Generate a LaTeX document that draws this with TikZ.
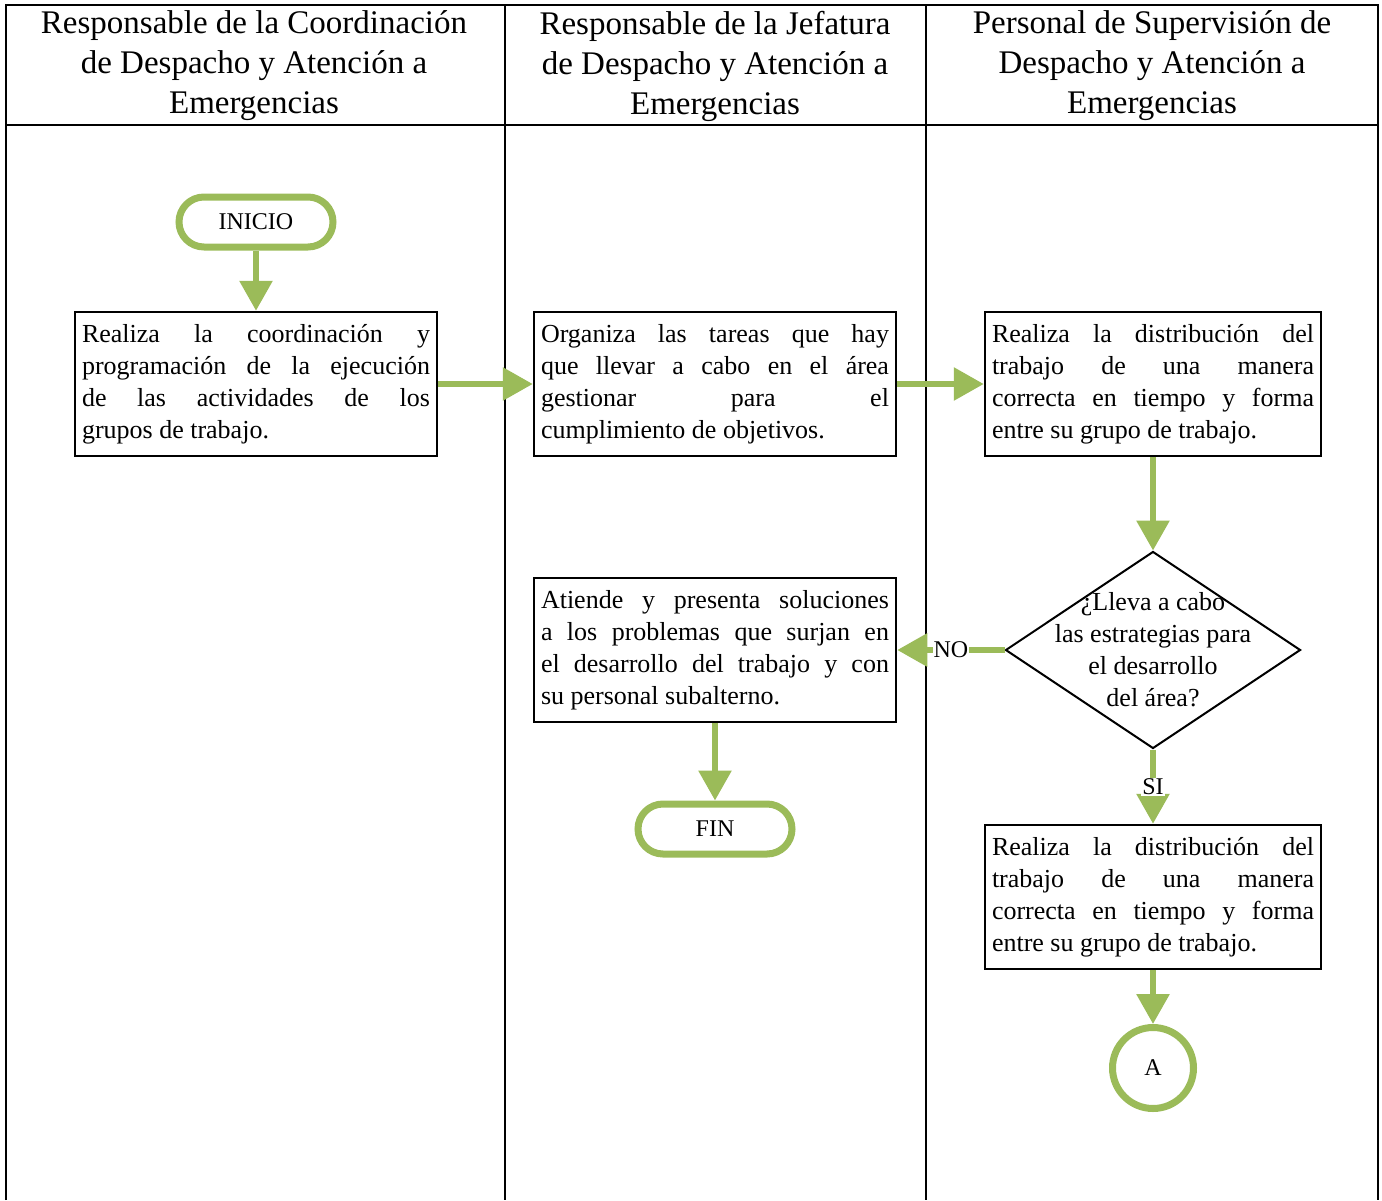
\documentclass[tikz,border=0pt]{standalone}
\usepackage{fontspec}
\setmainfont{Liberation Serif}
\usetikzlibrary{arrows.meta,shapes.geometric,shapes.misc}
\definecolor{flowgreen}{HTML}{9BBB59}
\begin{document}
\begin{tikzpicture}[x=1pt,y=-1pt,
  grid/.style={line width=2pt,black},
  headtext/.style={align=center,font=\fontsize{33}{40}\selectfont,inner sep=0pt},
  taskbox/.style={draw=black,line width=2.5pt,inner xsep=7pt,inner ysep=0pt,
    minimum height=144pt,align=justify,font=\fontsize{26}{32}\selectfont},
  terminal/.style={draw=flowgreen,line width=7pt,rounded rectangle,
    minimum width=154pt,minimum height=50pt,inner sep=0pt,font=\fontsize{24}{28}\selectfont},
  decision/.style={draw=black,line width=2pt,diamond,minimum width=295pt,
    minimum height=197pt,inner sep=0pt},
  connector/.style={draw=flowgreen,circle,line width=7pt,minimum size=81pt,
    inner sep=0pt,font=\fontsize{24}{28}\selectfont},
  flow/.style={draw=flowgreen,line width=6pt,
    -{Triangle[length=30pt,width=32pt]}},
  answer/.style={fill=white,inner sep=1pt,font=\fontsize{24}{28}\selectfont}]

\useasboundingbox (0,0) rectangle (1382,1200);

% swimlane table
\draw[grid] (6,1200) -- (6,5) -- (1378,5) -- (1378,1200);
\draw[grid] (6,125) -- (1378,125);
\draw[grid] (505,5) -- (505,1200);
\draw[grid] (926,5) -- (926,1200);

\node[headtext] (h1) at (254,66) {Responsable de la Coordinación\\de Despacho y Atención a\\Emergencias};
\node[headtext] (h2) at (715,66) {Responsable de la Jefatura\\de Despacho y Atención a\\Emergencias};
\node[headtext] (h3) at (1152,66) {Personal de Supervisión de\\Despacho y Atención a\\Emergencias};

% flowchart nodes
\node[terminal] (inicio) at (256,222) {INICIO};

\node[taskbox,text width=348pt] (coord) at (256,384)
  {Realiza la coordinación y\linebreak programación de la ejecución\linebreak de las actividades de los\linebreak grupos de trabajo.};

\node[taskbox,text width=348pt] (organiza) at (715,384)
  {Organiza las tareas que hay\linebreak que llevar a cabo en el área\linebreak gestionar para el\linebreak cumplimiento de objetivos.};

\node[taskbox,text width=322pt] (distrib) at (1153,384)
  {Realiza la distribución del\linebreak trabajo de una manera\linebreak correcta en tiempo y forma\linebreak entre su grupo de trabajo.};

\node[decision] (pregunta) at (1153,650) {};
\node[align=center,font=\fontsize{26}{32}\selectfont,inner sep=0pt] (ptext) at (pregunta.center)
  {¿Lleva a cabo\\las estrategias para\\el desarrollo\\del área?};

\node[taskbox,text width=348pt] (atiende) at (715,650)
  {Atiende y presenta soluciones\linebreak a los problemas que surjan en\linebreak el desarrollo del trabajo y con\linebreak su personal subalterno.};

\node[terminal] (fin) at (715,829) {FIN};

\node[taskbox,text width=322pt] (distrib2) at (1153,897)
  {Realiza la distribución del\linebreak trabajo de una manera\linebreak correcta en tiempo y forma\linebreak entre su grupo de trabajo.};

\node[connector] (conA) at (1153,1068) {A};

% connectors
\draw[flow] (inicio.south) -- (coord.north);
\draw[flow] (coord.east) -- (organiza.west);
\draw[flow] (organiza.east) -- (distrib.west);
\draw[flow] (distrib.south) -- (pregunta.north);
\draw[flow] (pregunta.west) -- node[answer] (no) {NO} (atiende.east);
\draw[flow] (pregunta.south) -- node[answer] (si) {SI} (distrib2.north);
\draw[flow] (atiende.south) -- (fin.north);
\draw[flow] (distrib2.south) -- (conA.north);
\end{tikzpicture}
\end{document}
